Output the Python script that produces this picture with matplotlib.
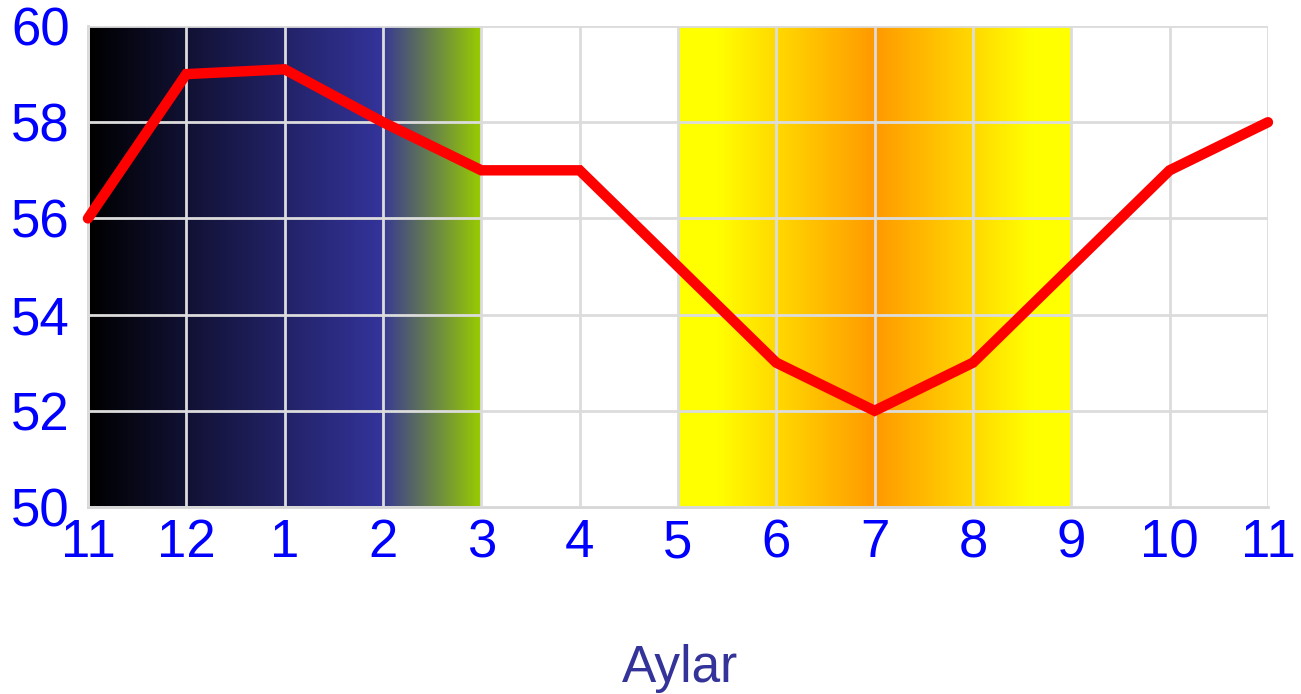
import numpy as np
import matplotlib.pyplot as plt
from matplotlib.colors import LinearSegmentedColormap

plt.rcParams['font.family'] = ['Liberation Sans', 'DejaVu Sans']

# monthly values, Nov -> Nov
months = ['11', '12', '1', '2', '3', '4', '5', '6', '7', '8', '9', '10', '11']
values = [56, 59, 59.1, 58, 57, 57, 55, 53, 52, 53, 55, 57, 58]

# shaded seasons (index ranges on the x axis)
winter_span = (0, 4)
summer_span = (6, 10)

winter_cmap = LinearSegmentedColormap.from_list(
    'winter', [(0.0, '#000000'), (0.74, '#333399'), (1.0, '#99cc00')])
summer_cmap = LinearSegmentedColormap.from_list(
    'summer', [(0.0, '#ffff00'), (0.1, '#ffff00'), (0.5, '#ff9900'),
               (0.9, '#ffff00'), (1.0, '#ffff00')])

fig = plt.figure(figsize=(13.01, 6.94), dpi=100)
ax = fig.add_axes([0.0676, 0.2695, 0.907, 0.693])

x = np.arange(len(months))
ymin, ymax = 50, 60

grad = np.linspace(0, 1, 512).reshape(1, -1)
ax.imshow(grad, cmap=winter_cmap, aspect='auto', zorder=0,
          extent=[winter_span[0], winter_span[1], ymin, ymax + 0.08])
ax.imshow(grad, cmap=summer_cmap, aspect='auto', zorder=0,
          extent=[summer_span[0], summer_span[1], ymin, ymax + 0.08])

ax.plot(x, values, color='#ff0000', lw=7.5, solid_capstyle='round',
        solid_joinstyle='miter', zorder=5, clip_on=False)

ax.set_xlim(0, len(months) - 1)
ax.set_ylim(ymin, ymax)
ax.set_xticks(x)
ax.set_xticklabels(months)
ax.set_yticks(np.arange(50, 61, 2))

ax.grid(True, color='#dcdcdc', lw=2)
ax.set_axisbelow(False)
for s in ax.spines.values():
    s.set_color('#d6d6d6')
    s.set_linewidth(2)
ax.spines['top'].set_visible(False)
ax.spines['right'].set_visible(False)

ax.tick_params(length=0, labelsize=38, labelcolor='#0000ff')
ax.tick_params(axis='x', pad=8)
ax.tick_params(axis='y', pad=13)

fig.text(680 / 1301, 1 - 682 / 694, 'Aylar', fontsize=37, color='#333399',
         ha='center', va='baseline')

fig.savefig('out.png', dpi=100)
